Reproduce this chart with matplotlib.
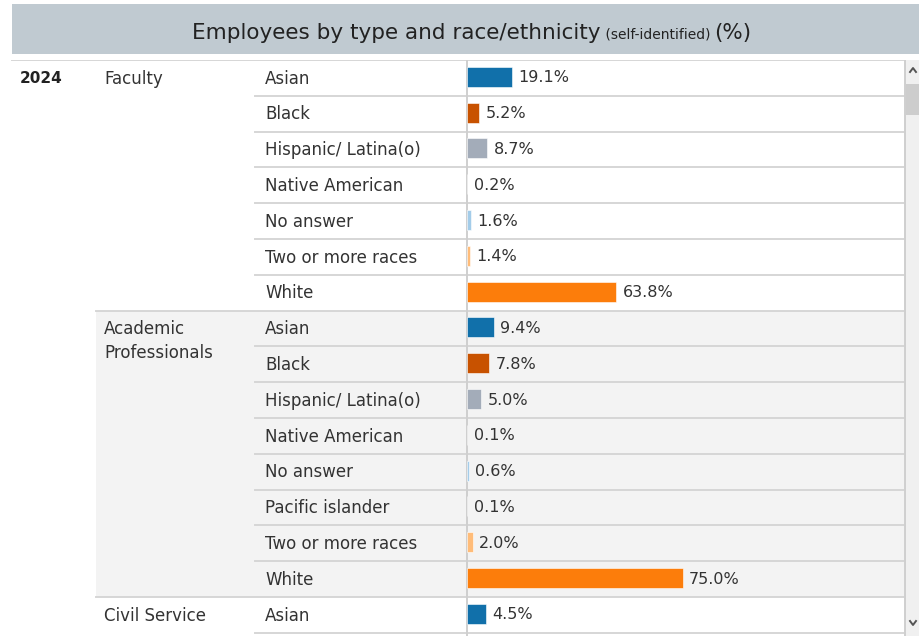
import matplotlib.pyplot as plt
from matplotlib.patches import Rectangle

# data
# -------------------------------------------------------------------------------------
year = "2024"
groups = ["Faculty", "Academic\nProfessionals", "Civil Service"]

faculty_races = ["Asian", "Black", "Hispanic/ Latina(o)", "Native American",
                 "No answer", "Two or more races", "White"]
faculty_pct = [19.1, 5.2, 8.7, 0.2, 1.6, 1.4, 63.8]

academic_races = ["Asian", "Black", "Hispanic/ Latina(o)", "Native American",
                  "No answer", "Pacific islander", "Two or more races", "White"]
academic_pct = [9.4, 7.8, 5.0, 0.1, 0.6, 0.1, 2.0, 75.0]

civil_races = ["Asian"]
civil_pct = [4.5]

# bars are drawn as headcounts (estimated group sizes), labels show percent
group_totals = [2340, 2880, 4200]

race_colors = {
    "Asian": "#1170aa",
    "Black": "#c85200",
    "Hispanic/ Latina(o)": "#a3acb9",
    "Native American": "#57606c",
    "No answer": "#a3cce9",
    "Pacific islander": "#7b848f",
    "Two or more races": "#ffbc79",
    "White": "#fc7d0b",
}

# layout (pixels)
# -------------------------------------------------------------------------------------
W, H = 919, 636
top = 60            # top of table
row_h = 35.8        # row height
n_rows = (H - top) / row_h
bar_x0 = 467
bar_x1 = 904
px_per_count = 0.1

plt.rcParams['font.family'] = ['DejaVu Sans']
txt = "#333333"
grid = "#d6d6d6"
fs_row = 12
fs_val = 11.5

fig = plt.figure(figsize=(W / 100, H / 100), dpi=100)

# header band
hx = fig.add_axes([0, 0, 1, 1])
hx.set_xlim(0, W)
hx.set_ylim(H, 0)
hx.axis("off")
hx.add_patch(Rectangle((12, 4), W - 12, 50, color="#c0cad1", lw=0))

# table axes: x in pixels, y in rows
tx = fig.add_axes([0, 0, 1, (H - top) / H])
tx.set_xlim(0, W)
tx.set_ylim(n_rows, 0)
tx.axis("off")

# bar axes
bx = fig.add_axes([bar_x0 / W, 0, (bar_x1 - bar_x0) / W, (H - top) / H])
bx.set_xlim(0, (bar_x1 - bar_x0) / px_per_count)
bx.set_ylim(n_rows, 0)
bx.axis("off")
bx.patch.set_alpha(0)

all_groups = [
    (groups[0], faculty_races, faculty_pct, group_totals[0]),
    (groups[1], academic_races, academic_pct, group_totals[1]),
    (groups[2], civil_races, civil_pct, group_totals[2]),
]

row = 0
for gi, (gname, races, pcts, total) in enumerate(all_groups):
    if gi == 1:
        tx.add_patch(Rectangle((96, row), bar_x1 - 96, len(races),
                               color="#f3f3f3", lw=0, zorder=0))
    # group separator
    x_start = 12 if gi == 0 else 96
    tx.plot([x_start, bar_x1], [row, row], color=grid, lw=1.4, zorder=1)
    for li, line in enumerate(gname.split("\n")):
        tx.text(104, row + 0.52 + li * 0.67, line, ha="left", va="center",
                fontsize=fs_row, color=txt)
    for ri, (race, p) in enumerate(zip(races, pcts)):
        y = row + ri + 0.5
        if ri > 0:
            tx.plot([255, bar_x1], [row + ri, row + ri], color=grid, lw=1.4, zorder=1)
        tx.text(265, y + 0.02, race, ha="left", va="center", fontsize=fs_row, color=txt)
        count = p / 100 * total
        bx.barh(y - 0.03, count, height=0.56, color=race_colors[race],
                edgecolor="white", linewidth=0.4, zorder=2)
        bx.annotate(f"{p:.1f}%", (count, y), xytext=(4.5, 0), textcoords="offset points",
                    ha="left", va="center", fontsize=fs_val, color=txt)
    row += len(races)
# line below last visible row
tx.plot([255, bar_x1], [row, row], color=grid, lw=1.4, zorder=1)

tx.text(20, 0.52, year, ha="left", va="center", fontsize=11, color="#222222",
        fontweight="bold")

# bar baseline
tx.plot([bar_x0 - 0.5, bar_x0 - 0.5], [0, n_rows], color="#cfcfcf", lw=1.4, zorder=3)
# right border + scrollbar
tx.plot([bar_x1 + 0.5, bar_x1 + 0.5], [0, n_rows], color="#cfcfcf", lw=1.4, zorder=3)
hx.add_patch(Rectangle((bar_x1 + 1.2, top), W - bar_x1, H - top, color="#f0f0f0", lw=0))
hx.add_patch(Rectangle((bar_x1 + 1.5, 84), W - bar_x1, 31, color="#cdcdcd", lw=0))
hx.plot([910, 913, 916], [72, 68, 72], color="#555555", lw=1.4)
hx.plot([910, 913, 916], [621, 625, 621], color="#555555", lw=1.4)

# title in three pieces, centred on the header
renderer = fig.canvas.get_renderer()
pieces = [("Employees by type and race/ethnicity", 15.5),
          (" (self-identified) ", 10),
          ("(%)", 15.5)]
objs = [hx.text(0, 39, s, fontsize=fs, color="#222222", ha="left", va="baseline")
        for s, fs in pieces]
widths = [o.get_window_extent(renderer).width for o in objs]
x = 472 - sum(widths) / 2
for o, w in zip(objs, widths):
    o.set_x(x)
    x += w

fig.savefig("out.png", dpi=100)
